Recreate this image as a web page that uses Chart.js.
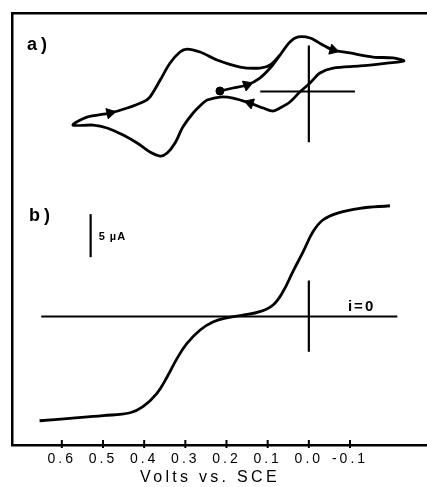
<!DOCTYPE html>
<html>
<head>
<meta charset="utf-8">
<script src="https://cdn.jsdelivr.net/npm/chart.js@4.4.0/dist/chart.umd.min.js"></script>
<style>
  html, body { margin: 0; padding: 0; background: #fff; overflow: hidden; }
  canvas { display: block; }
</style>
</head>
<body>
<canvas id="chart" width="427" height="487"></canvas>
<script>
// a) cyclic voltammogram, starts at the dot, potential in V vs SCE, current in uA
const cvPotential = [
  0.216, 0.184, 0.150, 0.119, 0.094, 0.070, 0.046, 0.026, -0.003, -0.034,
  -0.059, -0.100, -0.156, -0.204, -0.231, -0.190, -0.124, -0.059, -0.027, -0.003,
  0.022, 0.046, 0.070, 0.087, 0.111, 0.143, 0.184, 0.216, 0.247, 0.257,
  0.281, 0.306, 0.325, 0.344, 0.361, 0.386, 0.417, 0.451, 0.490, 0.524,
  0.573, 0.539, 0.483, 0.441, 0.403, 0.386, 0.361, 0.337, 0.313, 0.296,
  0.264, 0.223, 0.167, 0.119, 0.094, 0.070
];
const cvCurrent = [
  0.06, 0.41, 0.76, 1.57, 2.73, 4.24, 5.76, 6.34, 6.22, 5.41,
  4.83, 4.48, 4.01, 3.90, 3.55, 3.31, 2.97, 2.73, 2.15, 0.99,
  -0.06, -1.22, -1.92, -2.27, -1.92, -1.34, -0.76, -0.64, -0.99, -1.34,
  -2.50, -4.13, -5.99, -7.15, -7.50, -7.03, -5.99, -5.06, -4.24, -3.90,
  -3.90, -2.97, -2.50, -1.92, -1.22, -0.64, 1.34, 3.31, 4.59, 4.94,
  4.59, 3.66, 2.85, 2.73, 3.08, 4.24
];
const cvArrows = [2, 10, 25, 42];

// b) steady-state voltammogram
const ssPotential = [
  0.654, 0.580, 0.500, 0.434, 0.403, 0.369, 0.344, 0.320, 0.296, 0.264,
  0.233, 0.196, 0.160, 0.119, 0.087, 0.063, 0.039, 0.014, -0.010, -0.034,
  -0.068, -0.124, -0.197
];
const ssCurrent = [
  -12.12, -11.84, -11.53, -11.19, -10.49, -8.94, -7.01, -4.87, -3.13, -1.57,
  -0.64, -0.12, 0.17, 0.56, 1.34, 2.87, 5.19, 7.52, 9.85, 11.22,
  12.00, 12.58, 12.88
];

// reference marks
const zeroLineAPotential = [0.118, -0.112];
const zeroMarkACurrent = [5.35, -5.9];
const zeroLineBPotential = [0.65, -0.215];
const zeroMarkBCurrent = [4.2, -4.1];
const scaleBarPotential = 0.53;
const scaleBarCurrent = [6.9, 11.9];

const tickValues = [0.6, 0.5, 0.4, 0.3, 0.2, 0.1, 0.0, -0.1];
const axisTitle = "Volts vs. SCE";

const pts = (xs, ys) => xs.map((x, i) => ({ x, y: ys[i] }));
const hLine = (xs) => xs.map((x) => ({ x, y: 0 }));
const vLine = (x, ys) => ys.map((y) => ({ x, y }));

// point the arrow heads along the trace
function arrowRotation(c) {
  const i = c.dataIndex;
  if (!cvArrows.includes(i)) return 0;
  const { x, yA } = c.chart.scales;
  const dx = x.getPixelForValue(cvPotential[i + 1]) - x.getPixelForValue(cvPotential[i - 1]);
  const dy = yA.getPixelForValue(cvCurrent[i + 1]) - yA.getPixelForValue(cvCurrent[i - 1]);
  return (Math.atan2(dy, dx) * 180) / Math.PI + 90;
}

const thin = { borderColor: "#000", borderWidth: 2.2, pointRadius: 0, tension: 0 };
const FONT = '"Liberation Sans", Arial, sans-serif';
// axis used only as a frame line
const frameAxis = {
  display: true,
  grid: { display: false },
  ticks: { display: false },
  border: { display: true, color: "#000", width: 2.5 },
};

const decorations = {
  id: "decorations",
  beforeDraw(chart) {
    chart.ctx.letterSpacing = "3px";
  },
  afterDraw(chart) {
    const { ctx, chartArea: a, scales: { x, yB } } = chart;
    ctx.save();
    // tick marks crossing the potential axis
    ctx.strokeStyle = "#000";
    ctx.lineWidth = 2;
    ctx.beginPath();
    x.ticks.forEach((t) => {
      const px = x.getPixelForValue(t.value);
      ctx.moveTo(px, a.bottom - 5);
      ctx.lineTo(px, a.bottom + 3);
    });
    ctx.stroke();

    ctx.fillStyle = "#000";
    ctx.textBaseline = "middle";
    ctx.textAlign = "center";
    ctx.font = "16px " + FONT;
    ctx.letterSpacing = "3.3px";
    ctx.fillText(axisTitle, a.left + 198, 478);

    ctx.textAlign = "left";
    ctx.font = "bold 18px " + FONT;
    ctx.letterSpacing = "4px";
    ctx.fillText("a)", a.left + 15, 45);
    ctx.fillText("b)", a.left + 17, 216);

    ctx.font = "bold 11px " + FONT;
    ctx.letterSpacing = "1px";
    const barX = x.getPixelForValue(scaleBarPotential);
    const barY = (yB.getPixelForValue(scaleBarCurrent[0]) + yB.getPixelForValue(scaleBarCurrent[1])) / 2;
    ctx.fillText("5 µA", barX + 8, barY + 1);

    ctx.font = "bold 15px " + FONT;
    ctx.letterSpacing = "2px";
    ctx.fillText("i=0", x.getPixelForValue(-0.095), yB.getPixelForValue(0) - 10);
    ctx.restore();
    ctx.letterSpacing = "0px";
  },
};

new Chart(document.getElementById("chart"), {
  type: "line",
  data: {
    datasets: [
      {
        data: pts(cvPotential, cvCurrent),
        yAxisID: "yA",
        borderColor: "#000",
        borderWidth: 2.8,
        tension: 0.3,
        pointStyle: (c) => (c.dataIndex === 0 ? "circle" : "triangle"),
        pointRadius: (c) => (c.dataIndex === 0 ? 4 : cvArrows.includes(c.dataIndex) ? 6 : 0),
        pointRotation: arrowRotation,
        pointBackgroundColor: "#000",
        pointBorderColor: "#000",
        pointBorderWidth: 1,
      },
      { ...thin, data: hLine(zeroLineAPotential), yAxisID: "yA" },
      { ...thin, data: vLine(0, zeroMarkACurrent), yAxisID: "yA" },
      {
        data: pts(ssPotential, ssCurrent),
        yAxisID: "yB",
        borderColor: "#000",
        borderWidth: 2.8,
        tension: 0.4,
        pointRadius: 0,
      },
      { ...thin, data: hLine(zeroLineBPotential), yAxisID: "yB" },
      { ...thin, data: vLine(0, zeroMarkBCurrent), yAxisID: "yB" },
      { ...thin, data: vLine(scaleBarPotential, scaleBarCurrent), yAxisID: "yB" },
    ],
  },
  options: {
    responsive: false,
    animation: false,
    devicePixelRatio: 1,
    layout: { autoPadding: false, padding: { left: 12, top: 13, right: 0, bottom: 0 } },
    plugins: { legend: { display: false }, tooltip: { enabled: false } },
    scales: {
      x: {
        type: "linear",
        reverse: true,
        min: -0.287,
        max: 0.721,
        afterBuildTicks: (s) => {
          s.ticks = tickValues.map((v) => ({ value: v }));
        },
        afterFit: (s) => {
          s.height = 42;
        },
        grid: { display: false },
        border: { display: true, color: "#000", width: 2.5 },
        ticks: {
          padding: -2,
          color: "#000",
          maxRotation: 0,
          autoSkip: false,
          font: { family: FONT, size: 14 },
          callback: (v) => Number(v).toFixed(1),
        },
      },
      xTop: { ...frameAxis, type: "linear", position: "top", min: 0, max: 1, afterFit: (s) => { s.height = 0; } },
      yA: { type: "linear", display: false, min: -41.1, max: 9.13 },
      yB: { ...frameAxis, type: "linear", position: "left", min: -14.94, max: 35.29, afterFit: (s) => { s.width = 0; } },
    },
  },
  plugins: [decorations],
});
</script>
</body>
</html>
